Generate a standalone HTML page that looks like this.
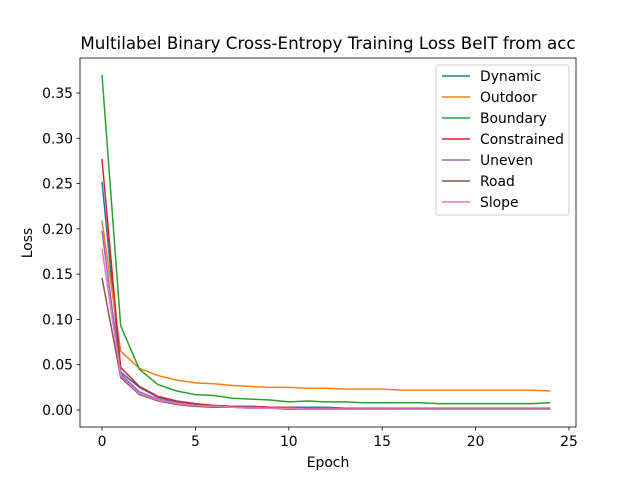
<!DOCTYPE html>
<html><head><meta charset="utf-8"><style>
body{margin:0;background:#fff;font-family:"Liberation Sans","DejaVu Sans",sans-serif;}
svg text{font-family:"DejaVu Sans","Liberation Sans",sans-serif;}
</style></head><body>
<svg id="chart" width="640" height="480" viewBox="0 0 640 480" xmlns="http://www.w3.org/2000/svg">
<rect width="640" height="480" fill="#fff"/>
<text x="328" y="49" text-anchor="middle" font-size="16.7">Multilabel Binary Cross-Entropy Training Loss BeIT from acc</text>
<g id="plot"></g>
<text x="328" y="467" text-anchor="middle" font-size="13.9">Epoch</text>
<text transform="translate(32,243) rotate(-90)" text-anchor="middle" font-size="13.9">Loss</text>
</svg>
<script>
const epochs=[0,1,2,3,4,5,6,7,8,9,10,11,12,13,14,15,16,17,18,19,20,21,22,23,24];
const seriesNames=["Dynamic","Outdoor","Boundary","Constrained","Uneven","Road","Slope"];
const seriesColors=["#1f77b4","#ff7f0e","#2ca02c","#d62728","#9467bd","#8c564b","#e377c2"];
const dynamic=[0.252,0.042,0.025,0.014,0.009,0.006,0.005,0.004,0.004,0.003,0.003,0.003,0.003,0.002,0.002,0.002,0.002,0.002,0.002,0.002,0.002,0.002,0.002,0.002,0.002];
const outdoor=[0.209,0.065,0.046,0.038,0.033,0.030,0.029,0.027,0.026,0.025,0.025,0.024,0.024,0.023,0.023,0.023,0.022,0.022,0.022,0.022,0.022,0.022,0.022,0.022,0.021];
const boundary=[0.370,0.093,0.045,0.028,0.021,0.017,0.016,0.013,0.012,0.011,0.009,0.010,0.009,0.009,0.008,0.008,0.008,0.008,0.007,0.007,0.007,0.007,0.007,0.007,0.008];
const constrained=[0.277,0.047,0.026,0.015,0.010,0.007,0.005,0.004,0.004,0.003,0.003,0.002,0.002,0.002,0.002,0.002,0.001,0.001,0.001,0.001,0.001,0.001,0.001,0.001,0.001];
const uneven=[0.198,0.040,0.020,0.012,0.008,0.005,0.004,0.003,0.003,0.002,0.002,0.002,0.002,0.001,0.001,0.001,0.001,0.001,0.001,0.001,0.001,0.001,0.001,0.001,0.001];
const road=[0.146,0.036,0.017,0.010,0.006,0.004,0.003,0.003,0.002,0.002,0.001,0.001,0.001,0.001,0.001,0.001,0.001,0.001,0.001,0.001,0.001,0.001,0.001,0.001,0.001];
const slope=[0.178,0.038,0.018,0.011,0.007,0.005,0.004,0.003,0.002,0.002,0.002,0.001,0.001,0.001,0.001,0.001,0.001,0.001,0.001,0.001,0.001,0.001,0.001,0.001,0.001];
const allSeries=[dynamic,outdoor,boundary,constrained,uneven,road,slope];
const xTicks=[0,5,10,15,20,25];
const yTicks=[0.00,0.05,0.10,0.15,0.20,0.25,0.30,0.35];

const NS="http://www.w3.org/2000/svg";
const L=80,R=576,T=58,B=427;
const xs=v=>102+v*(569-102)/25;
const ys=v=>410-v*(410-93)/0.35;
const g=document.getElementById('plot');
function mk(t,a,p){const e=document.createElementNS(NS,t);for(const k in a)e.setAttribute(k,a[k]);(p||g).appendChild(e);return e;}

allSeries.forEach((s,i)=>{
  const pl=mk('polyline',{points:s.map((v,j)=>xs(epochs[j])+','+ys(v)).join(' '),fill:'none',stroke:seriesColors[i],'stroke-width':1.5});
  
  
});
const frame=mk('rect',{x:L,y:T,width:R-L,height:B-T,fill:'none',stroke:'#000','stroke-width':0.8});


xTicks.forEach(t=>{
  mk('line',{x1:xs(t),x2:xs(t),y1:B,y2:B+3.5,stroke:'#000','stroke-width':0.8});
  const tx=mk('text',{x:xs(t),y:B+19,'text-anchor':'middle','font-size':13.9});
  tx.textContent=t;
  
  
});
yTicks.forEach(t=>{
  mk('line',{x1:L-3.5,x2:L,y1:ys(t),y2:ys(t),stroke:'#000','stroke-width':0.8});
  const tx=mk('text',{x:L-7,y:ys(t)+5,'text-anchor':'end','font-size':13.9});
  tx.textContent=t.toFixed(2);
  
  
});
const lg=mk('g',{});


mk('rect',{x:436,y:65,width:133,height:150,rx:2,fill:'#fff','fill-opacity':0.8,stroke:'#ccc'},lg);
seriesNames.forEach((n,i)=>{
  const y=76+i*21;
  const ge=mk('g',{},lg);
  
  
  mk('line',{x1:442,x2:470,y1:y,y2:y,stroke:seriesColors[i],'stroke-width':1.5},ge);
  const tx=mk('text',{x:480,y:y+5,'font-size':13.9},ge);
  tx.textContent=n;
});
</script>
</body></html>
